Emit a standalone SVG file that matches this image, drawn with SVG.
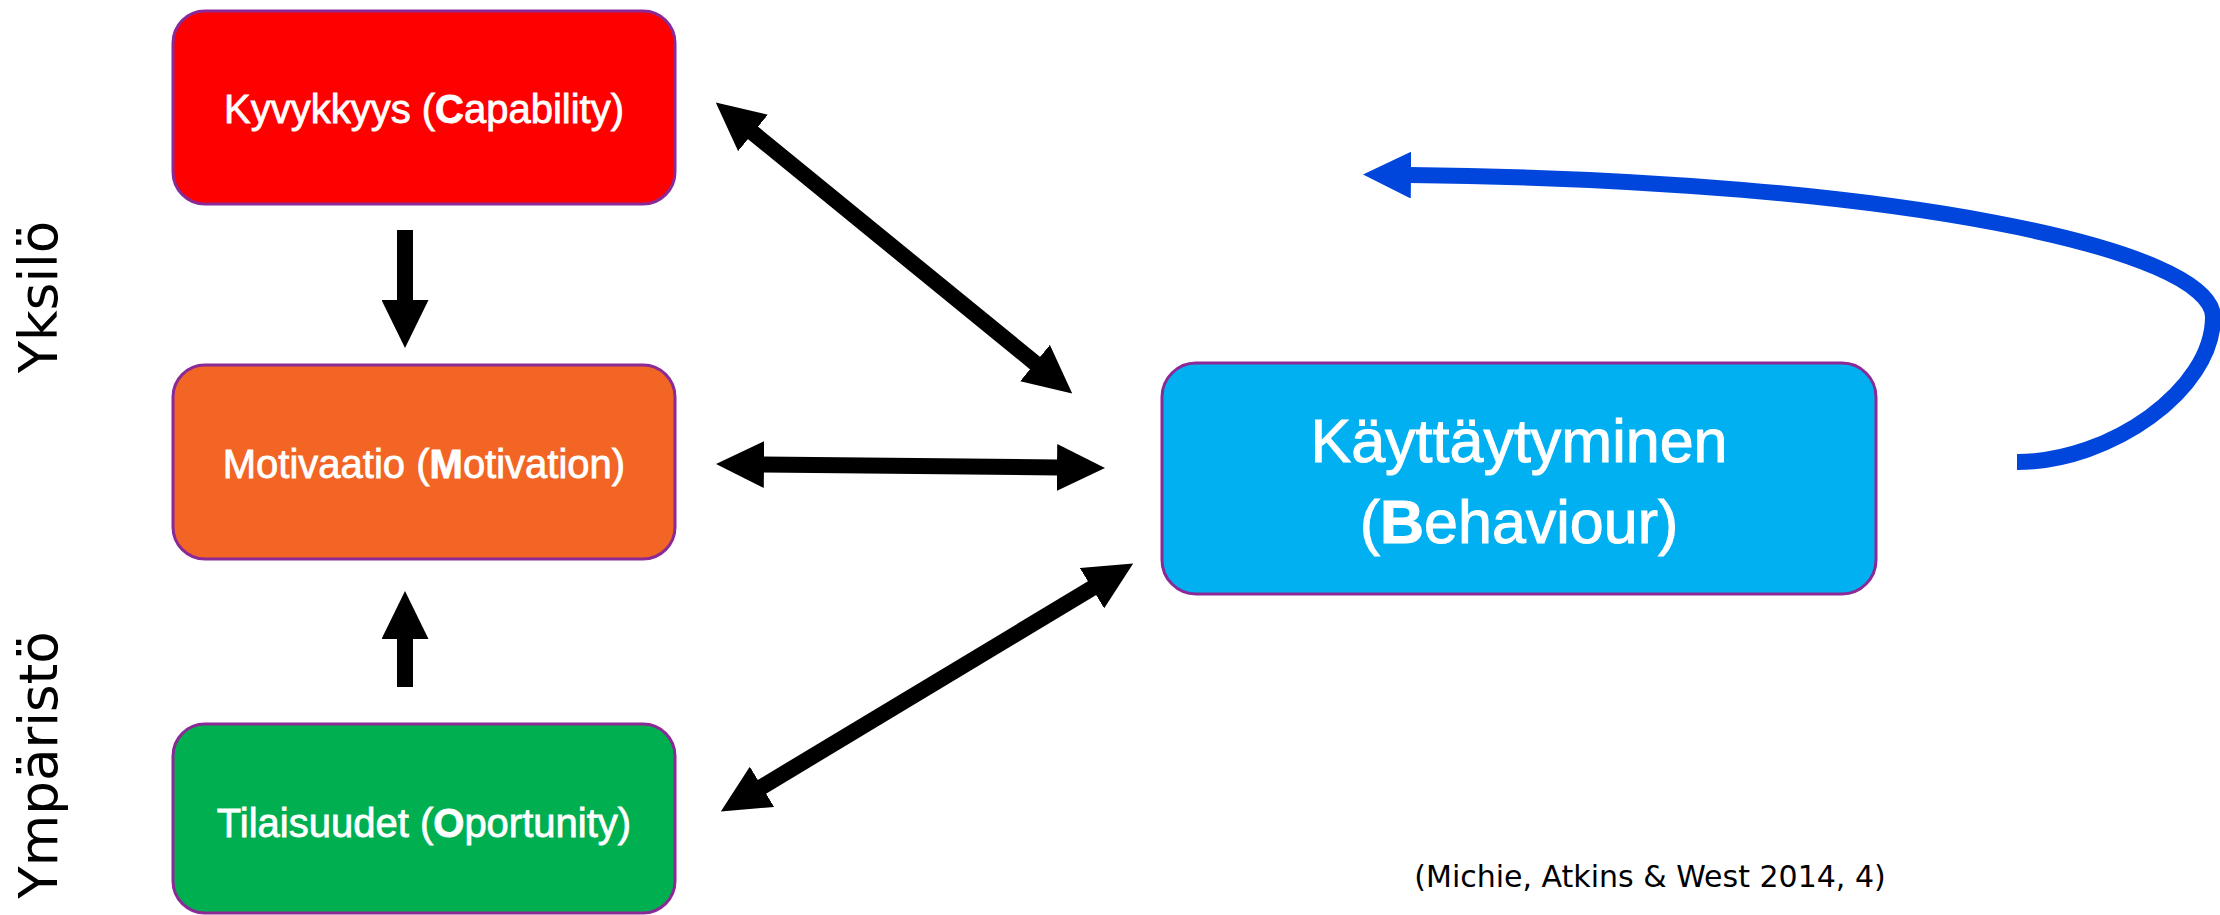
<svg xmlns="http://www.w3.org/2000/svg" width="2220" height="915" viewBox="0 0 2220 915">
<style>
.box{stroke:#8B2A96;stroke-width:3}
.lbl{font-family:"Liberation Sans",Arial,sans-serif;font-size:40px;fill:#fff;stroke:#fff;stroke-width:0.8;text-anchor:middle}
.big{font-size:61px;stroke-width:1}
.b{font-weight:bold}
.side{font-family:"DejaVu Sans",Verdana,sans-serif;font-size:53px;fill:#000;text-anchor:middle}
.cite{font-family:"DejaVu Sans",Verdana,sans-serif;font-size:30px;fill:#000;text-anchor:middle}
.arr{stroke:#000;stroke-width:16;fill:none;marker-end:url(#ah)}
.arr2{stroke:#000;stroke-width:16;fill:none;marker-start:url(#ah);marker-end:url(#ah)}
</style>
<defs>
<marker id="ah" viewBox="0 0 48 47" refX="1" refY="23.5" markerWidth="48" markerHeight="47" markerUnits="userSpaceOnUse" orient="auto-start-reverse">
<path d="M0,0 L48,23.5 L0,47 Z" fill="#000"/>
</marker>
<marker id="bh" viewBox="0 0 48 47" refX="1" refY="23.5" markerWidth="48" markerHeight="47" markerUnits="userSpaceOnUse" orient="auto">
<path d="M0,0 L48,23.5 L0,47 Z" fill="#0046DC"/>
</marker>
</defs>
<rect width="2220" height="915" fill="#fff"/>
<text class="side" transform="translate(57,297) rotate(-90)">Yksilö</text>
<text class="side" transform="translate(57,765) rotate(-90)">Ympäristö</text>
<g id="capability">
<rect class="box" x="173" y="11" width="502" height="193" rx="32" fill="#FF0000"/>
<text class="lbl" x="424" y="123">Kyvykkyys (<tspan class="b">C</tspan>apability)</text>
</g>
<g id="motivation">
<rect class="box" x="173" y="365" width="502" height="194" rx="32" fill="#F26524"/>
<text class="lbl" x="424" y="478">Motivaatio (<tspan class="b">M</tspan>otivation)</text>
</g>
<g id="opportunity">
<rect class="box" x="173" y="724" width="502" height="189" rx="32" fill="#00B050"/>
<text class="lbl" x="424" y="837">Tilaisuudet (<tspan class="b">O</tspan>portunity)</text>
</g>
<g id="behaviour">
<rect class="box" x="1162" y="363" width="714" height="231" rx="34" fill="#00B0F0"/>
<text class="lbl big" x="1519" y="462">Käyttäytyminen</text>
<text class="lbl big" x="1519" y="543">(<tspan class="b">B</tspan>ehaviour)</text>
</g>
<g id="connectors">
<line class="arr" x1="405" y1="230" x2="405" y2="301"/>
<line class="arr" x1="405" y1="687" x2="405" y2="638"/>
<line class="arr2" x1="752.2" y1="132.3" x2="1035.8" y2="363.7"/>
<line class="arr2" x1="763" y1="464.5" x2="1058" y2="467.5"/>
<line class="arr2" x1="761.1" y1="787.3" x2="1092.9" y2="587.7"/>
<path d="M2017,462 C2110,462 2213,390 2213,317 C2213,250 1900,180 1410,175" stroke="#0046DC" stroke-width="16" fill="none" marker-end="url(#bh)"/>
</g>
<text class="cite" x="1650" y="887">(Michie, Atkins &amp; West 2014, 4)</text>
</svg>
